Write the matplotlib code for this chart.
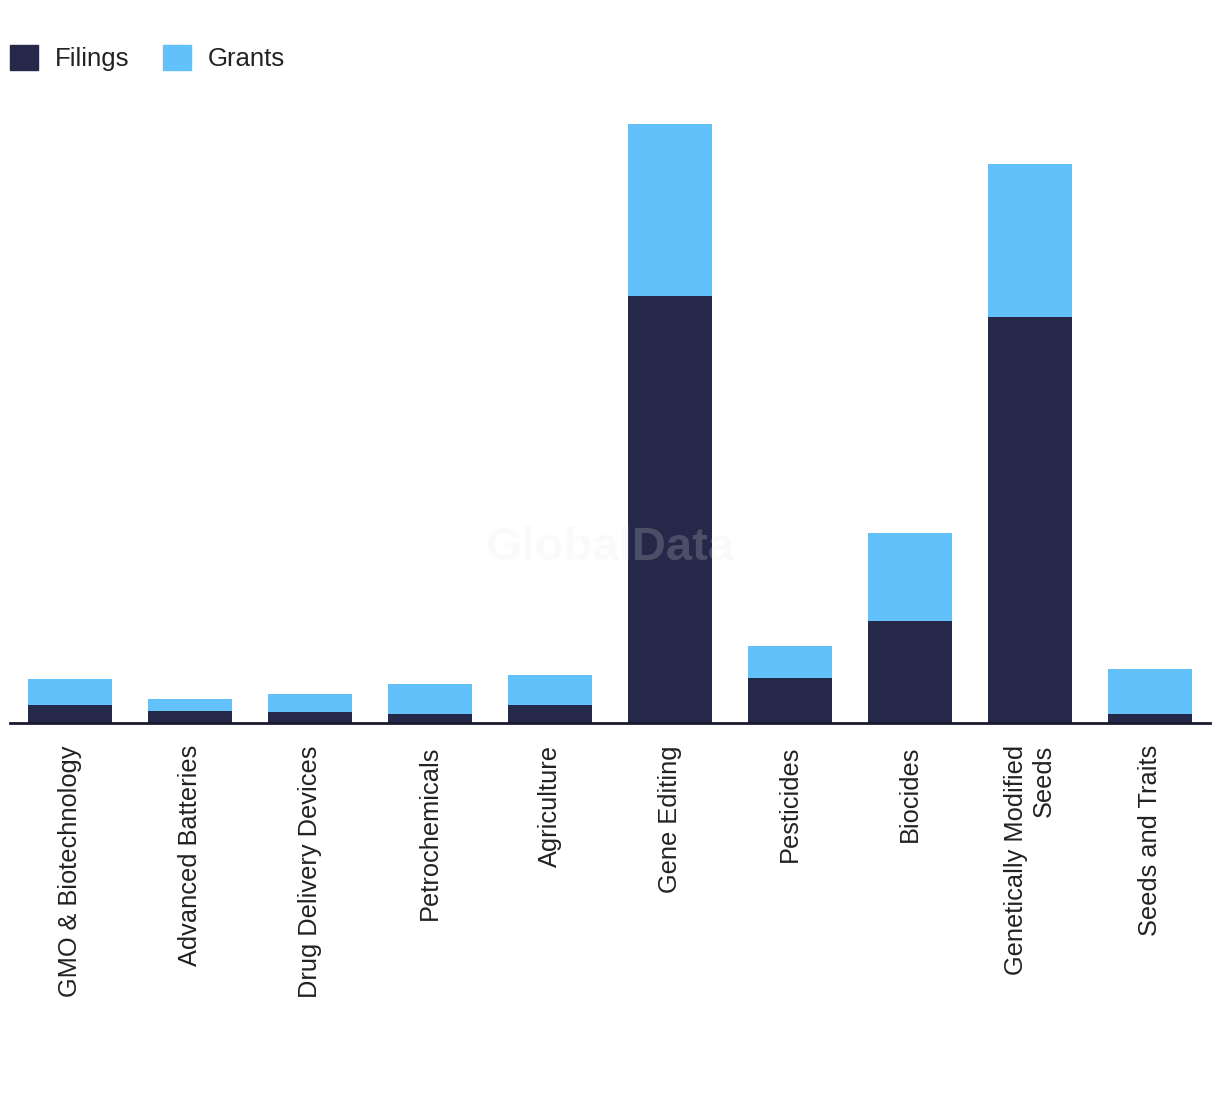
import matplotlib.pyplot as plt
from matplotlib.patches import Patch

# Farben
navy = '#262849'
sky  = '#62c1f9'

# Daten (aus Bild geschätzt)
categories = [
    "GMO & Biotechnology", "Advanced Batteries", "Drug Delivery Devices",
    "Petrochemicals", "Agriculture", "Gene Editing", "Pesticides",
    "Biocides", "Genetically Modified\nSeeds", "Seeds and Traits",
]
filings = [18, 12, 11, 9, 18, 427, 45, 102, 406, 9]
grants  = [26, 12, 18, 30, 30, 172, 32, 88, 153, 45]

plt.rcParams['font.family'] = ['Liberation Sans', 'DejaVu Sans']

fig = plt.figure(figsize=(12.2, 10.94), dpi=100)
ax = fig.add_axes([10 / 1220, 371 / 1094, 1200 / 1220, 623 / 1094])

x = range(len(categories))
ax.bar(x, filings, width=0.7, color=navy, zorder=2)
ax.bar(x, grants, width=0.7, bottom=filings, color=sky, zorder=2)

ax.set_xlim(-0.5, len(categories) - 0.5)
ax.set_ylim(0, 623)
ax.set_yticks([])
ax.set_xticks(list(x))
ax.set_xticklabels(categories, rotation=90, fontsize=18.3, color='#222222',
                   ha='center', va='top', multialignment='right')
ax.tick_params(axis='x', length=0, pad=16)

for s in ['top', 'right', 'left']:
    ax.spines[s].set_visible(False)
ax.spines['bottom'].set_color('#1a1a2e')
ax.spines['bottom'].set_linewidth(2)
ax.spines['bottom'].set_zorder(3)

# Wasserzeichen
fig.text(610 / 1220, 1 - 548 / 1094, "GlobalData", fontsize=34, fontweight='bold',
         color='#e8e8e8', alpha=0.2, ha='center', va='center', zorder=5)

# Legende
handles = [Patch(color=navy, label='Filings'), Patch(color=sky, label='Grants')]
fig.legend(handles=handles, loc='upper left', bbox_to_anchor=(10 / 1220, 1 - 45 / 1094),
           ncol=2, frameon=False, fontsize=18.5, handlelength=1.1, handleheight=1.1,
           handletextpad=0.65, columnspacing=1.3, borderpad=0, borderaxespad=0,
           labelcolor='#222222')

plt.savefig('out.png', dpi=100)
plt.close()
